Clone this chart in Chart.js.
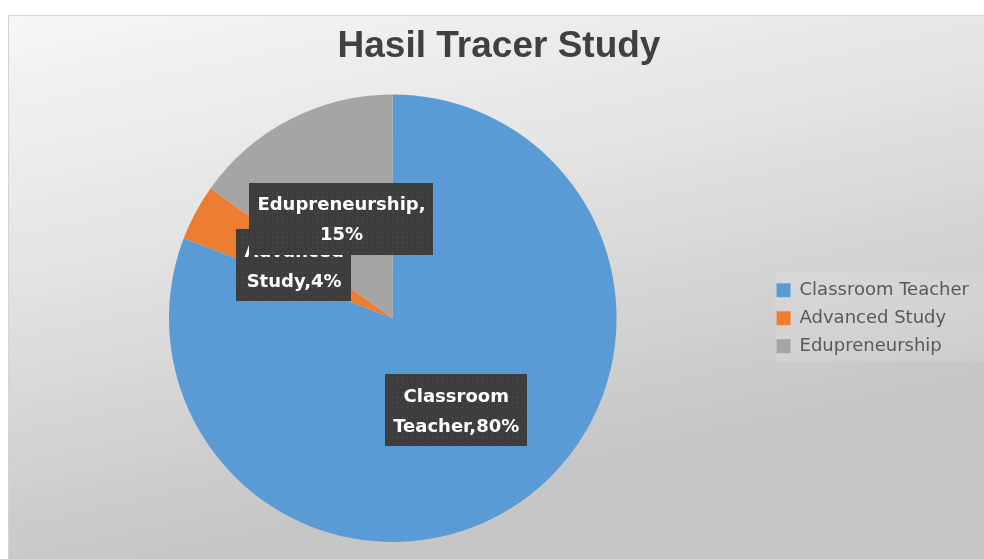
<!DOCTYPE html>
<html>
<head>
<meta charset="utf-8">
<script src="https://cdn.jsdelivr.net/npm/chart.js@4.4.1/dist/chart.umd.min.js"></script>
<style>
  html, body { margin: 0; padding: 0; background: #ffffff; }
  #wrap { width: 984px; height: 559px; position: relative; }
</style>
</head>
<body>
<div id="wrap"><canvas id="pie"></canvas></div>
<script>
// --- data ---
const categories = ['Classroom Teacher', 'Advanced Study', 'Edupreneurship'];
const percentages = [80, 4, 15];
const sliceColors = ['#5B9BD5', '#ED7D31', '#A5A5A5'];
const chartTitle = 'Hasil Tracer Study';

// dark dotted fill used by the data label boxes
function dotPattern(ctx) {
    const c = document.createElement('canvas');
    c.width = 5; c.height = 5;
    const p = c.getContext('2d');
    p.fillStyle = '#3d3d3d';
    p.fillRect(0, 0, 5, 5);
    p.fillStyle = '#515151';
    p.fillRect(2, 2, 1, 1);
    return ctx.createPattern(c, 'repeat');
}

// background panel (light grey gradient) + faint band behind the legend
const panelPlugin = {
    id: 'panel',
    beforeDraw(chart) {
        const ctx = chart.ctx;
        const w = chart.width, h = chart.height;
        ctx.save();
        const g = ctx.createLinearGradient(0, 15, 120, h);
        g.addColorStop(0, '#f6f6f6');
        g.addColorStop(0.45, '#e4e4e4');
        g.addColorStop(1, '#c6c6c6');
        ctx.fillStyle = g;
        ctx.fillRect(8, 15, w - 8, h - 15);
        ctx.strokeStyle = '#d4d4d4';
        ctx.lineWidth = 1;
        ctx.beginPath();
        ctx.moveTo(8.5, h);
        ctx.lineTo(8.5, 15.5);
        ctx.lineTo(w, 15.5);
        ctx.stroke();

        const lg = chart.legend;
        if (lg && lg.legendHitBoxes && lg.legendHitBoxes.length) {
            const hb = lg.legendHitBoxes;
            const last = hb[hb.length - 1];
            ctx.fillStyle = 'rgba(255,255,255,0.12)';
            ctx.fillRect(hb[0].left - 1, hb[0].top - 8, w - hb[0].left + 1, last.top + last.height - hb[0].top + 14);
        }
        ctx.restore();
    }
};

// data labels: "Category,NN%" in dark boxes at half radius of each slice
const boxLabelPlugin = {
    id: 'boxLabels',
    afterDatasetsDraw(chart) {
        const ctx = chart.ctx;
        const meta = chart.getDatasetMeta(0);
        const fill = dotPattern(ctx);
        ctx.save();
        ctx.font = 'bold 18px "DejaVu Sans"';
        ctx.textAlign = 'center';
        ctx.textBaseline = 'middle';
        meta.data.forEach((arc, i) => {
            const text = categories[i] + ',' + percentages[i] + '%';
            const lines = text.indexOf(' ') >= 0 ? text.split(' ') : text.replace(',', ',\n').split('\n');
            const pos = arc.tooltipPosition();
            const lh = 30;
            let tw = 0;
            lines.forEach(l => { tw = Math.max(tw, ctx.measureText(l).width); });
            const bw = tw + 16;
            const bh = lines.length * lh + 12;
            ctx.fillStyle = fill;
            ctx.fillRect(Math.round(pos.x - bw / 2), Math.round(pos.y - bh / 2), Math.round(bw), bh);
            ctx.fillStyle = '#ffffff';
            lines.forEach((l, k) => {
                ctx.fillText(l, pos.x, pos.y + 2 + (k - (lines.length - 1) / 2) * lh);
            });
        });
        ctx.restore();
    }
};

new Chart(document.getElementById('pie'), {
    type: 'pie',
    data: {
        labels: categories,
        datasets: [{
            data: percentages,
            backgroundColor: sliceColors,
            borderWidth: 0
        }]
    },
    options: {
        responsive: true,
        maintainAspectRatio: false,
        animation: false,
        layout: { padding: { left: 19, right: 5, top: 0, bottom: 17 } },
        plugins: {
            title: {
                display: true,
                text: chartTitle,
                color: '#404040',
                font: { family: '"Liberation Sans", Arial, sans-serif', size: 37, weight: 'bold' },
                padding: { top: 25, bottom: 25 }
            },
            legend: {
                position: 'right',
                fullSize: false,
                labels: {
                    color: '#595959',
                    font: { family: '"DejaVu Sans", sans-serif', size: 18 },
                    boxWidth: 14,
                    boxHeight: 14,
                    padding: 10
                }
            },
            tooltip: { enabled: false }
        }
    },
    plugins: [panelPlugin, boxLabelPlugin]
});
</script>
</body>
</html>
